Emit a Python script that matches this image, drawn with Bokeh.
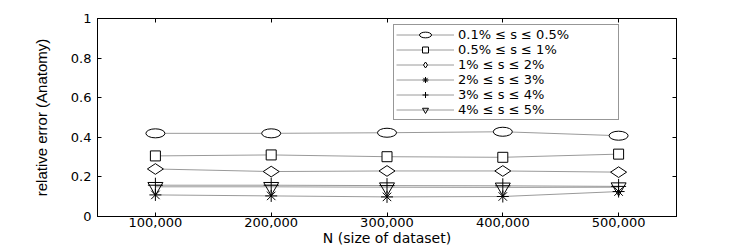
import math
from bokeh.plotting import figure
from bokeh.models import Legend, LegendItem, LinearAxis, FixedTicker, Range1d
from bokeh.embed import file_html
from bokeh.resources import INLINE

# ---- data ----
n_values = [100000, 200000, 300000, 400000, 500000]
x_tick_labels = ["100,000", "200,000", "300,000", "400,000", "500,000"]
y_ticks = [0, 0.2, 0.4, 0.6, 0.8, 1]
y_tick_labels = ["0", "0.2", "0.4", "0.6", "0.8", "1"]

series_labels = [
    "0.1% ≤ s ≤ 0.5%",
    "0.5% ≤ s ≤ 1%",
    "1% ≤ s ≤ 2%",
    "2% ≤ s ≤ 3%",
    "3% ≤ s ≤ 4%",
    "4% ≤ s ≤ 5%",
]
err_s01_05 = [0.420, 0.420, 0.423, 0.428, 0.408]
err_s05_1 = [0.306, 0.311, 0.302, 0.299, 0.315]
err_s1_2 = [0.240, 0.227, 0.230, 0.230, 0.224]
err_s2_3 = [0.109, 0.104, 0.099, 0.101, 0.126]
err_s3_4 = [0.158, 0.158, 0.156, 0.155, 0.152]
err_s4_5 = [0.150, 0.150, 0.148, 0.147, 0.148]

TICK_FONT = "DejaVu Sans"
LINE_COLOR = "#9a9a9a"

p = figure(width=730, height=249, output_backend="svg", toolbar_location=None,
           x_range=Range1d(50000, 550000), y_range=Range1d(0, 1),
           min_border_left=97, min_border_right=54, min_border_top=18,
           min_border_bottom=33)
p.background_fill_color = "white"
p.border_fill_color = "white"
p.outline_line_color = "black"
p.outline_line_width = 1
p.xgrid.visible = False
p.ygrid.visible = False

# axes
xa = p.xaxis[0]
xa.ticker = FixedTicker(ticks=n_values)
xa.major_label_overrides = {v: t for v, t in zip(n_values, x_tick_labels)}
xa.axis_label = "N (size of dataset)"
ya = p.yaxis[0]
ya.ticker = FixedTicker(ticks=y_ticks)
ya.major_label_overrides = {v: t for v, t in zip(y_ticks, y_tick_labels)}
ya.axis_label = "relative error (Anatomy)"

for ax in (xa, ya):
    ax.major_tick_in = 4
    ax.major_tick_out = 0
    ax.minor_tick_line_color = None
    ax.axis_line_color = "black"
    ax.major_tick_line_color = "black"
    ax.major_label_text_font = TICK_FONT
    ax.major_label_text_font_size = "13px"
    ax.major_label_text_color = "black"
    ax.axis_label_text_font_style = "normal"
    ax.axis_label_text_color = "black"

xa.major_label_standoff = 1
xa.axis_label_standoff = 0
xa.axis_label_text_font = "DejaVu Sans"
xa.axis_label_text_font_size = "14px"
ya.major_label_standoff = 6
ya.axis_label_standoff = 18
ya.axis_label_text_font = "Liberation Sans"
ya.axis_label_text_font_size = "15px"

ra = LinearAxis(ticker=FixedTicker(ticks=y_ticks), major_tick_in=4, major_tick_out=0,
                minor_tick_line_color=None, major_label_text_color=None,
                major_label_text_font_size="1px", major_label_standoff=0,
                axis_line_color="black")
ta = LinearAxis(ticker=FixedTicker(ticks=n_values), major_tick_in=4, major_tick_out=0,
                minor_tick_line_color=None, major_label_text_color=None,
                major_label_text_font_size="1px", major_label_standoff=0,
                axis_line_color="black")
p.add_layout(ra, "right")
p.add_layout(ta, "above")

# lines
all_series = [err_s01_05, err_s05_1, err_s1_2, err_s2_3, err_s3_4, err_s4_5]
lines = [p.line(n_values, ys, line_color=LINE_COLOR, line_width=1) for ys in all_series]

# markers
m0 = p.ellipse(n_values, err_s01_05, width=19, height=9, width_units="screen",
               height_units="screen", fill_color="white", line_color="black", line_width=1)
m1 = p.scatter(n_values, err_s05_1, marker="square", size=10, fill_color="white",
               line_color="black", line_width=1)
m2 = p.scatter(n_values, err_s1_2, marker="diamond", size=16, angle=math.pi / 2,
               fill_color="white", line_color="black", line_width=1)
m3 = p.scatter(n_values, err_s2_3, marker="asterisk", size=12, line_color="black",
               line_width=1)
m4 = p.scatter(n_values, err_s3_4, marker="cross", size=15, line_color="black",
               line_width=1)
m5 = p.scatter(n_values, err_s4_5, marker="inverted_triangle", size=15, fill_color=None,
               line_color="black", line_width=1)
markers = [m0, m1, m2, m3, m4, m5]

items = [LegendItem(label=lab, renderers=[ln, mk])
         for lab, ln, mk in zip(series_labels, lines, markers)]
legend = Legend(items=items, location=(296, 96), glyph_width=58, glyph_height=15,
                spacing=0, padding=2, label_standoff=4, label_width=158,
                label_height=15, label_text_font="DejaVu Sans",
                label_text_font_size="13px", label_text_color="black",
                border_line_color="#303030", border_line_width=1,
                background_fill_color="white", background_fill_alpha=1, margin=0)
p.add_layout(legend)

open("out.html", "w").write(file_html(p, INLINE))
